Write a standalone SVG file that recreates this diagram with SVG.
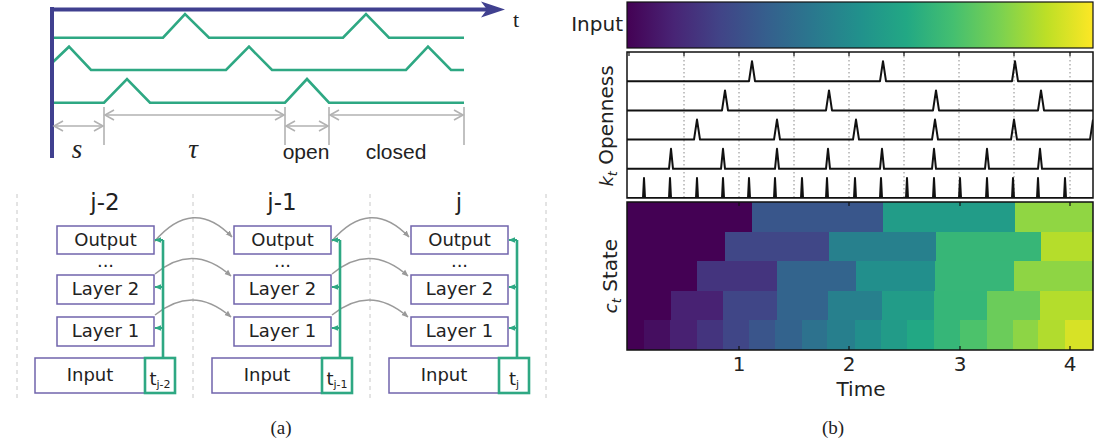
<svg xmlns="http://www.w3.org/2000/svg" width="1102" height="438" viewBox="0 0 1102 438">
  <style>
    .wave { fill: none; stroke: #2ea883; stroke-width: 2.6; stroke-linejoin: miter; }
    .dim { fill: none; stroke: #b2b2b2; stroke-width: 1.6; }
    .box { fill: #ffffff; stroke: #7064ac; stroke-width: 1.5; }
    .tbox { fill: #ffffff; stroke: #2ea883; stroke-width: 2.6; }
    .lbl { font-family: "DejaVu Sans", sans-serif; font-size: 18px; fill: #222; text-anchor: middle; }
    .col { font-family: "DejaVu Sans", sans-serif; font-size: 23px; fill: #222; text-anchor: middle; }
    .sep { stroke: #c8c8c8; stroke-width: 1; stroke-dasharray: 4 4; }
    .skip { stroke: #9a9a9a; stroke-width: 1.5; fill: none; }
    .gate { stroke: #2ea883; stroke-width: 2.6; fill: none; }
    .gatearm { stroke: #2ea883; stroke-width: 2; fill: none; }
    .mpl { font-family: "DejaVu Sans", sans-serif; font-size: 20px; fill: #222; }
    .frame { fill: none; stroke: #111; stroke-width: 1.5; }
    .spike { fill: none; stroke: #111; stroke-width: 2; stroke-linejoin: round; }
    .grid { stroke: #888; stroke-width: 1; stroke-dasharray: 1.5 2.5; }
    .tick { stroke: #111; stroke-width: 1.2; }
    .cap { font-family: "Liberation Serif", serif; font-size: 19px; fill: #222; text-anchor: middle; }
    .cell rect { shape-rendering: crispEdges; }
  </style>
  <defs>
    <linearGradient id="viridis" x1="0" y1="0" x2="1" y2="0">
      <stop offset="0" stop-color="#440154"/>
      <stop offset="0.1" stop-color="#482475"/>
      <stop offset="0.2" stop-color="#414487"/>
      <stop offset="0.3" stop-color="#355f8d"/>
      <stop offset="0.4" stop-color="#2a788e"/>
      <stop offset="0.5" stop-color="#21918c"/>
      <stop offset="0.6" stop-color="#22a884"/>
      <stop offset="0.7" stop-color="#44bf70"/>
      <stop offset="0.8" stop-color="#7ad151"/>
      <stop offset="0.9" stop-color="#bddf26"/>
      <stop offset="1" stop-color="#fde725"/>
    </linearGradient>
    <marker id="ah-grey" viewBox="0 0 10 10" refX="9" refY="5" markerWidth="7" markerHeight="7" markerUnits="userSpaceOnUse" orient="auto">
      <path d="M0,1 L10,5 L0,9 z" fill="#9a9a9a"/>
    </marker>
    <marker id="ah-green" viewBox="0 0 10 10" refX="9" refY="5" markerWidth="7" markerHeight="7" markerUnits="userSpaceOnUse" orient="auto">
      <path d="M0,1 L10,5 L0,9 z" fill="#2ea883"/>
    </marker>
    <clipPath id="openClip"><rect x="627" y="52" width="466" height="146"/></clipPath>
  </defs>

  <!-- (a) top: phase-shifted oscillation timing -->
  <g id="timing">
    <path class="wave" d="M52,37.7 L163,37.7 L185,14 L209,37.7 L343,37.7 L366,14 L389,37.7 L464,37.7"/>
    <path class="wave" d="M53,62 L69,46.7 L91,70 L226,70 L249,46.7 L272,70 L406,70 L428,46.7 L451,70 L464,70"/>
    <path class="wave" d="M52,102.7 L104,102.7 L127,79 L150,102.7 L285,102.7 L307,79 L329,102.7 L464,102.7"/>
    <!-- axes -->
    <line x1="52" y1="7" x2="52" y2="158" stroke="#40408f" stroke-width="4"/>
    <line x1="50" y1="9.5" x2="488" y2="9.5" stroke="#40408f" stroke-width="4"/>
    <path d="M505,9.5 L481,1.5 L487,9.5 L481,17.5 z" fill="#40408f"/>
    <text x="516" y="27" font-family="Liberation Serif, serif" font-size="22" fill="#222" text-anchor="middle">t</text>
    <!-- dimension markers -->
    <g class="dim">
      <line x1="104" y1="107" x2="104" y2="145"/>
      <line x1="285" y1="107" x2="285" y2="145"/>
      <line x1="329" y1="107" x2="329" y2="145"/>
      <line x1="464" y1="107" x2="464" y2="145"/>
      <line x1="54" y1="126" x2="103" y2="126"/>
      <path d="M63,121 L54,126 L63,131 M94,121 L103,126 L94,131"/>
      <line x1="105" y1="115" x2="284" y2="115"/>
      <path d="M114,110 L105,115 L114,120 M275,110 L284,115 L275,120"/>
      <line x1="286" y1="126" x2="328" y2="126"/>
      <path d="M295,121 L286,126 L295,131 M319,121 L328,126 L319,131"/>
      <line x1="330" y1="115" x2="463" y2="115"/>
      <path d="M339,110 L330,115 L339,120 M454,110 L463,115 L454,120"/>
    </g>
    <text x="77" y="158" font-family="Liberation Serif, serif" font-style="italic" font-size="27" fill="#222" text-anchor="middle">s</text>
    <text x="193" y="158" font-family="Liberation Serif, serif" font-style="italic" font-size="27" fill="#222" text-anchor="middle">τ</text>
    <text x="306" y="159" font-family="Liberation Sans, Arial, sans-serif" font-size="21" fill="#222" text-anchor="middle">open</text>
    <text x="396" y="159" font-family="Liberation Sans, Arial, sans-serif" font-size="21" fill="#222" text-anchor="middle">closed</text>
  </g>

  <!-- (a) bottom: unrolled network, three time steps -->
  <g id="separators">
    <line class="sep" x1="17" y1="194" x2="17" y2="398"/>
    <line class="sep" x1="193" y1="194" x2="193" y2="398"/>
    <line class="sep" x1="370" y1="194" x2="370" y2="398"/>
    <line class="sep" x1="546" y1="194" x2="546" y2="398"/>
  </g>

  <g id="step-j-2">
    <text class="col" x="105" y="210">j-2</text>
    <g id="output-j-2"><rect class="box" x="57" y="226" width="97" height="28"/><text class="lbl" x="105.5" y="246">Output</text></g>
    <text class="lbl" x="105.5" y="267">...</text>
    <g id="layer2-j-2"><rect class="box" x="57" y="275" width="97" height="29"/><text class="lbl" x="105.5" y="295">Layer 2</text></g>
    <g id="layer1-j-2"><rect class="box" x="57" y="317" width="97" height="29"/><text class="lbl" x="105.5" y="337">Layer 1</text></g>
    <g id="input-j-2"><rect class="box" x="35" y="358" width="110" height="35"/><text class="lbl" x="90" y="381">Input</text></g>
    <g id="time-j-2"><rect class="tbox" x="145" y="358" width="30" height="35"/>
      <text class="lbl" x="160" y="385" font-size="17"><tspan>t</tspan><tspan font-size="11" dy="3">j-2</tspan></text></g>
  </g>

  <g id="step-j-1">
    <text class="col" x="282" y="210">j-1</text>
    <g id="output-j-1"><rect class="box" x="234" y="226" width="97" height="28"/><text class="lbl" x="282.5" y="246">Output</text></g>
    <text class="lbl" x="282.5" y="267">...</text>
    <g id="layer2-j-1"><rect class="box" x="234" y="275" width="97" height="29"/><text class="lbl" x="282.5" y="295">Layer 2</text></g>
    <g id="layer1-j-1"><rect class="box" x="234" y="317" width="97" height="29"/><text class="lbl" x="282.5" y="337">Layer 1</text></g>
    <g id="input-j-1"><rect class="box" x="212" y="358" width="110" height="35"/><text class="lbl" x="267" y="381">Input</text></g>
    <g id="time-j-1"><rect class="tbox" x="322" y="358" width="30" height="35"/>
      <text class="lbl" x="337" y="385" font-size="17"><tspan>t</tspan><tspan font-size="11" dy="3">j-1</tspan></text></g>
  </g>

  <g id="step-j">
    <text class="col" x="459" y="210">j</text>
    <g id="output-j"><rect class="box" x="411" y="226" width="97" height="28"/><text class="lbl" x="459.5" y="246">Output</text></g>
    <text class="lbl" x="459.5" y="267">...</text>
    <g id="layer2-j"><rect class="box" x="411" y="275" width="97" height="29"/><text class="lbl" x="459.5" y="295">Layer 2</text></g>
    <g id="layer1-j"><rect class="box" x="411" y="317" width="97" height="29"/><text class="lbl" x="459.5" y="337">Layer 1</text></g>
    <g id="input-j"><rect class="box" x="389" y="358" width="110" height="35"/><text class="lbl" x="444" y="381">Input</text></g>
    <g id="time-j"><rect class="tbox" x="499" y="358" width="30" height="35"/>
      <text class="lbl" x="514" y="385" font-size="17"><tspan>t</tspan><tspan font-size="11" dy="3">j</tspan></text></g>
  </g>

  <g id="connectors">
    <!-- recurrent links between steps -->
    <path class="skip" d="M154,242 Q193,196 232,237" marker-end="url(#ah-grey)"/>
    <path class="skip" d="M155,274 Q193,242 231,276" marker-end="url(#ah-grey)"/>
    <path class="skip" d="M155,315 Q193,284 231,317" marker-end="url(#ah-grey)"/>
    <path class="skip" d="M331,242 Q370,196 409,237" marker-end="url(#ah-grey)"/>
    <path class="skip" d="M332,274 Q370,242 408,276" marker-end="url(#ah-grey)"/>
    <path class="skip" d="M332,315 Q370,284 408,317" marker-end="url(#ah-grey)"/>
    <!-- time gates feeding each layer -->
    <path class="gate" d="M163,358 V240"/>
    <path class="gatearm" d="M163,240 H155" marker-end="url(#ah-green)"/>
    <path class="gatearm" d="M163,287 H155" marker-end="url(#ah-green)"/>
    <path class="gatearm" d="M163,328 H155" marker-end="url(#ah-green)"/>
    <path class="gate" d="M340,358 V240"/>
    <path class="gatearm" d="M340,240 H332" marker-end="url(#ah-green)"/>
    <path class="gatearm" d="M340,287 H332" marker-end="url(#ah-green)"/>
    <path class="gatearm" d="M340,328 H332" marker-end="url(#ah-green)"/>
    <path class="gate" d="M517,358 V240"/>
    <path class="gatearm" d="M517,240 H509" marker-end="url(#ah-green)"/>
    <path class="gatearm" d="M517,287 H509" marker-end="url(#ah-green)"/>
    <path class="gatearm" d="M517,328 H509" marker-end="url(#ah-green)"/>
  </g>

  <text class="cap" x="281" y="434">(a)</text>

  <!-- (b) input signal -->
  <g id="input-bar">
    <rect x="627" y="2" width="466" height="46" fill="url(#viridis)" stroke="#111" stroke-width="1.2"/>
    <text class="mpl" x="623" y="31" text-anchor="end">Input</text>
  </g>

  <!-- (b) openness of each neuron -->
  <g id="openness">
    <g class="grid">
      <line x1="684" y1="52" x2="684" y2="198"/>
      <line x1="739" y1="52" x2="739" y2="198"/>
      <line x1="794" y1="52" x2="794" y2="198"/>
      <line x1="849" y1="52" x2="849" y2="198"/>
      <line x1="904" y1="52" x2="904" y2="198"/>
      <line x1="959" y1="52" x2="959" y2="198"/>
      <line x1="1014" y1="52" x2="1014" y2="198"/>
      <line x1="1070" y1="52" x2="1070" y2="198"/>
    </g>
    <g clip-path="url(#openClip)">
      <path class="spike" d="M627,81.2 H749 L752,61.2 L755,81.2 H880 L883,61.2 L886,81.2 H1012 L1015,61.2 L1018,81.2 H1093"/>
      <path class="spike" d="M627,110.4 H722 L725,90.4 L728,110.4 H826 L829,90.4 L832,110.4 H933 L936,90.4 L939,110.4 H1038 L1041,90.4 L1044,110.4 H1093"/>
      <path class="spike" d="M627,139.6 H694 L697,119.6 L700,139.6 H774 L777,119.6 L780,139.6 H853 L856,119.6 L859,139.6 H932 L935,119.6 L938,139.6 H1011 L1014,119.6 L1017,139.6 H1090 L1093,119.6"/>
      <path class="spike" d="M627,168.8 H669 L671,148.8 L673,168.8 H721 L723,148.8 L725,168.8 H775 L777,148.8 L779,168.8 H826 L828,148.8 L830,168.8 H880 L882,148.8 L884,168.8 H932 L934,148.8 L936,168.8 H985 L987,148.8 L989,168.8 H1038 L1040,148.8 L1042,168.8 H1093"/>
      <path class="spike" d="M627,198 H643 L644,178 L645,198 H669 L670,178 L671,198 H696 L697,178 L698,198 H722 L723,178 L724,198 H748 L749,178 L750,198 H774 L775,178 L776,198 H801 L802,178 L803,198 H826 L827,178 L828,198 H854 L855,178 L856,198 H880 L881,178 L882,198 H906 L907,178 L908,198 H933 L934,178 L935,198 H959 L960,178 L961,198 H986 L987,178 L988,198 H1012 L1013,178 L1014,198 H1037 L1038,178 L1039,198 H1064 L1065,178 L1066,198 H1093"/>
    </g>
    <rect class="frame" x="627" y="52" width="466" height="146"/>
    <g class="tick">
      <line x1="629" y1="52" x2="629" y2="56"/>
      <line x1="684" y1="52" x2="684" y2="56"/>
      <line x1="739" y1="52" x2="739" y2="56"/>
      <line x1="794" y1="52" x2="794" y2="56"/>
      <line x1="849" y1="52" x2="849" y2="56"/>
      <line x1="904" y1="52" x2="904" y2="56"/>
      <line x1="959" y1="52" x2="959" y2="56"/>
      <line x1="1014" y1="52" x2="1014" y2="56"/>
      <line x1="1070" y1="52" x2="1070" y2="56"/>
    </g>
    <text class="mpl" text-anchor="middle" transform="translate(613,126) rotate(-90)"><tspan font-style="italic" font-size="18">k</tspan><tspan font-style="italic" font-size="13" dy="4">t</tspan><tspan dy="-4"> Openness</tspan></text>
  </g>

  <!-- (b) held cell state per neuron; later cells paint over earlier ones -->
  <g id="state">
    <g id="state-row1" class="cell">
      <rect x="627" y="202" width="466" height="30" fill="#440154"/>
      <rect x="752" y="202" width="341" height="30" fill="#39568b"/>
      <rect x="883" y="202" width="210" height="30" fill="#229c88"/>
      <rect x="1015" y="202" width="78" height="30" fill="#90d643"/>
    </g>
    <g id="state-row2" class="cell">
      <rect x="627" y="231.6" width="466" height="30" fill="#440154"/>
      <rect x="725" y="231.6" width="368" height="30" fill="#404787"/>
      <rect x="829" y="231.6" width="264" height="30" fill="#27808d"/>
      <rect x="936" y="231.6" width="157" height="30" fill="#37b677"/>
      <rect x="1041" y="231.6" width="52" height="30" fill="#b5dd2b"/>
    </g>
    <g id="state-row3" class="cell">
      <rect x="627" y="261.2" width="466" height="30" fill="#440154"/>
      <rect x="697" y="261.2" width="396" height="30" fill="#44347e"/>
      <rect x="777" y="261.2" width="316" height="30" fill="#33648d"/>
      <rect x="856" y="261.2" width="237" height="30" fill="#228f8c"/>
      <rect x="935" y="261.2" width="158" height="30" fill="#37b678"/>
      <rect x="1014" y="261.2" width="79" height="30" fill="#8ed544"/>
    </g>
    <g id="state-row4" class="cell">
      <rect x="627" y="290.8" width="466" height="30" fill="#440154"/>
      <rect x="671" y="290.8" width="422" height="30" fill="#482273"/>
      <rect x="723" y="290.8" width="370" height="30" fill="#404687"/>
      <rect x="777" y="290.8" width="316" height="30" fill="#33648d"/>
      <rect x="828" y="290.8" width="265" height="30" fill="#27808d"/>
      <rect x="882" y="290.8" width="211" height="30" fill="#229c88"/>
      <rect x="934" y="290.8" width="159" height="30" fill="#36b678"/>
      <rect x="987" y="290.8" width="106" height="30" fill="#6bcc5a"/>
      <rect x="1040" y="290.8" width="53" height="30" fill="#b4dd2c"/>
    </g>
    <g id="state-row5" class="cell">
      <rect x="627" y="320.4" width="466" height="29.6" fill="#440154"/>
      <rect x="644" y="320.4" width="449" height="29.6" fill="#450e60"/>
      <rect x="670" y="320.4" width="423" height="29.6" fill="#482172"/>
      <rect x="697" y="320.4" width="396" height="29.6" fill="#44347e"/>
      <rect x="723" y="320.4" width="370" height="29.6" fill="#404687"/>
      <rect x="749" y="320.4" width="344" height="29.6" fill="#3a558b"/>
      <rect x="775" y="320.4" width="318" height="29.6" fill="#33638d"/>
      <rect x="802" y="320.4" width="291" height="29.6" fill="#2d728e"/>
      <rect x="827" y="320.4" width="266" height="29.6" fill="#277f8d"/>
      <rect x="855" y="320.4" width="238" height="29.6" fill="#228e8c"/>
      <rect x="881" y="320.4" width="212" height="29.6" fill="#229b88"/>
      <rect x="907" y="320.4" width="186" height="29.6" fill="#22a884"/>
      <rect x="934" y="320.4" width="159" height="29.6" fill="#36b678"/>
      <rect x="960" y="320.4" width="133" height="29.6" fill="#4cc26b"/>
      <rect x="987" y="320.4" width="106" height="29.6" fill="#6bcc5a"/>
      <rect x="1013" y="320.4" width="80" height="29.6" fill="#8dd545"/>
      <rect x="1038" y="320.4" width="55" height="29.6" fill="#b1dc2e"/>
      <rect x="1065" y="320.4" width="28" height="29.6" fill="#d7e226"/>
    </g>
    <rect class="frame" x="627" y="202" width="466" height="148"/>
    <g class="tick">
      <line x1="739" y1="202" x2="739" y2="206"/>
      <line x1="849" y1="202" x2="849" y2="206"/>
      <line x1="960" y1="202" x2="960" y2="206"/>
      <line x1="1070" y1="202" x2="1070" y2="206"/>
      <line x1="739" y1="350" x2="739" y2="346"/>
      <line x1="849" y1="350" x2="849" y2="346"/>
      <line x1="960" y1="350" x2="960" y2="346"/>
      <line x1="1070" y1="350" x2="1070" y2="346"/>
    </g>
    <text class="mpl" text-anchor="middle" transform="translate(617,276) rotate(-90)"><tspan font-style="italic" font-size="18">c</tspan><tspan font-style="italic" font-size="13" dy="4">t</tspan><tspan dy="-4"> State</tspan></text>
    <g class="mpl" text-anchor="middle" font-size="19">
      <text x="739" y="371">1</text>
      <text x="849" y="371">2</text>
      <text x="960" y="371">3</text>
      <text x="1070" y="371">4</text>
    </g>
    <text class="mpl" x="861" y="396" text-anchor="middle">Time</text>
  </g>

  <text class="cap" x="833" y="434">(b)</text>
</svg>
